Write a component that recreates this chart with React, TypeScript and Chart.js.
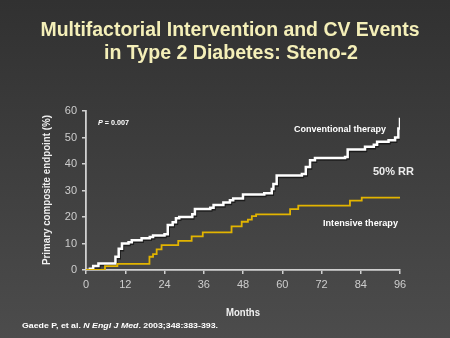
import React, { useEffect, useRef } from "react";
import { Chart, registerables } from "chart.js";

Chart.register(...registerables);

const titleLines = ["Multifactorial Intervention and CV Events", "in Type 2 Diabetes: Steno-2"];
const yAxisTitle = "Primary composite endpoint (%)";
const xAxisTitle = "Months";
const pValueLabel = ["P", " = 0.007"];
const conventionalLabel = "Conventional therapy";
const intensiveLabel = "Intensive therapy";
const rrLabel = "50% RR";
const citationParts = ["Gaede P, et al. ", "N Engl J Med", ". 2003;348:383-393."];

const conventionalMonths = [0, 1.2, 2.2, 3.8, 9.0, 10.0, 11.0, 13.0, 14.0, 17.0, 19.5, 20.5, 24.0, 25.0, 26.5, 27.5, 28.5, 32.5, 33.3, 38.0, 39.0, 42.0, 44.0, 45.0, 48.0, 54.5, 56.8, 57.3, 58.3, 66.0, 67.2, 68.5, 70.0, 79.2, 80.0, 85.3, 88.0, 89.0, 92.5, 94.5, 95.5, 96.0, 96.3];
const conventionalValues = [0, 0.5, 1.5, 2.5, 5.0, 8.0, 10.0, 10.5, 11.2, 12.0, 12.5, 13.0, 13.5, 17.0, 18.0, 19.5, 20.0, 21.0, 23.0, 23.5, 24.5, 25.5, 26.3, 27.0, 28.5, 29.0, 30.6, 32.5, 35.7, 36.2, 38.9, 41.4, 42.3, 42.6, 45.5, 46.5, 47.3, 48.4, 49.0, 50.0, 53.4, 57.5, 58.7];

const intensiveMonths = [0, 5.8, 9.6, 19.4, 20.5, 21.6, 23.1, 28.2, 32.3, 35.7, 44.5, 47.6, 49.5, 50.7, 52.0, 62.4, 64.9, 80.7, 84.3, 96.2];
const intensiveValues = [0, 1.5, 2.3, 5.0, 6.0, 7.8, 9.4, 11.0, 12.7, 14.2, 16.5, 18.2, 19.0, 20.3, 21.0, 23.0, 24.3, 26.2, 27.3, 27.3];

const xMin = 0;
const xMax = 96;
const xStep = 12;
const yMin = 0;
const yMax = 60;
const yStep = 10;

const FONT = '"Liberation Sans", Arial, sans-serif';

type Run = { t: string; italic?: boolean };

function drawRuns(
  ctx: CanvasRenderingContext2D,
  runs: Run[],
  x: number,
  y: number,
  width: number,
  size: number,
  color: string,
  align: "left" | "center" = "left",
  rotate = false
) {
  const fontOf = (r: Run) => `${r.italic ? "italic " : ""}bold ${size}px ${FONT}`;
  let total = 0;
  const widths = runs.map((r) => {
    ctx.font = fontOf(r);
    const w = ctx.measureText(r.t).width;
    total += w;
    return w;
  });
  const s = width / total;
  ctx.save();
  ctx.translate(x, y);
  if (rotate) ctx.rotate(-Math.PI / 2);
  ctx.scale(s, 1);
  let cx = align === "center" ? -total / 2 : 0;
  ctx.fillStyle = color;
  ctx.textBaseline = "middle";
  ctx.textAlign = "left";
  runs.forEach((r, i) => {
    ctx.font = fontOf(r);
    ctx.fillText(r.t, cx, 0);
    cx += widths[i];
  });
  ctx.restore();
}

const bgPlugin = {
  id: "bg",
  beforeDraw(chart: any) {
    const { ctx, width, height } = chart;
    const g = ctx.createLinearGradient(0, 0, 0, height);
    g.addColorStop(0, "#313131");
    g.addColorStop(1, "#4c4c4c");
    ctx.save();
    ctx.fillStyle = g;
    ctx.fillRect(0, 0, width, height);
    ctx.restore();
  },
};

const shadowPlugin = {
  id: "lineShadow",
  beforeDatasetDraw(chart: any, args: any) {
    if (args.index !== 1) return;
    const ctx = chart.ctx;
    ctx.save();
    ctx.shadowColor = "rgba(0,0,0,0.55)";
    ctx.shadowOffsetX = 1;
    ctx.shadowOffsetY = 1.5;
    ctx.shadowBlur = 0;
  },
  afterDatasetDraw(chart: any, args: any) {
    if (args.index !== 1) return;
    chart.ctx.restore();
  },
};

const textPlugin = {
  id: "texts",
  afterDraw(chart: any) {
    const ctx = chart.ctx as CanvasRenderingContext2D;
    const title = "#f4efb8";
    drawRuns(ctx, [{ t: titleLines[0] }], 230, 30, 379, 20, title, "center");
    drawRuns(ctx, [{ t: titleLines[1] }], 231, 53, 254, 20, title, "center");
    drawRuns(ctx, [{ t: yAxisTitle }], 47, 190, 150, 10.5, "#f0f0f0", "center", true);
    drawRuns(ctx, [{ t: xAxisTitle }], 243, 313, 34, 10.5, "#f0f0f0", "center");
    drawRuns(
      ctx,
      [{ t: citationParts[0] }, { t: citationParts[1], italic: true }, { t: citationParts[2] }],
      22, 326, 196, 8, "#ffffff"
    );
    drawRuns(ctx, [{ t: pValueLabel[0], italic: true }, { t: pValueLabel[1] }], 98, 123, 31, 8, "#ffffff");
    drawRuns(ctx, [{ t: conventionalLabel }], 294, 129, 92, 9.5, "#ffffff");
    drawRuns(ctx, [{ t: rrLabel }], 373, 172, 41, 11.5, "#ececec");
    drawRuns(ctx, [{ t: intensiveLabel }], 323, 223, 75, 9.5, "#ffffff");
  },
};

export default function App() {
  const ref = useRef<HTMLCanvasElement | null>(null);
  useEffect(() => {
    if (!ref.current) return;
    const conv = conventionalMonths.map((m, i) => ({ x: m, y: conventionalValues[i] }));
    const intens = intensiveMonths.map((m, i) => ({ x: m, y: intensiveValues[i] }));
    const axisColor = "#d0d0d0";
    const tickColor = "#cdcdcd";
    const chart = new Chart(ref.current, {
      type: "line",
      data: {
        datasets: [
          {
            label: intensiveLabel,
            data: intens,
            borderColor: "#e2b400",
            borderWidth: 1.8,
            pointRadius: 0,
            stepped: true,
            fill: false,
          },
          {
            label: conventionalLabel,
            data: conv,
            borderColor: "#ffffff",
            borderWidth: 2.5,
            pointRadius: 0,
            stepped: true,
            fill: false,
          },
        ],
      },
      options: {
        animation: false,
        responsive: false,
        events: [],
        layout: { padding: { left: 0, right: 50, top: 111, bottom: 0 } },
        plugins: { legend: { display: false }, tooltip: { enabled: false }, title: { display: false } },
        scales: {
          x: {
            type: "linear",
            min: xMin,
            max: xMax,
            afterFit: (s: any) => {
              s.height = 68;
            },
            ticks: { stepSize: xStep, color: tickColor, font: { family: FONT, size: 11 }, padding: 4 },
            grid: { drawOnChartArea: false, drawTicks: true, tickLength: 4, color: axisColor, lineWidth: 1.5 },
            border: { color: axisColor, width: 1.8 },
          },
          y: {
            type: "linear",
            min: yMin,
            max: yMax,
            afterFit: (s: any) => {
              s.width = 86;
            },
            ticks: { stepSize: yStep, color: tickColor, font: { family: FONT, size: 11 }, padding: 5 },
            grid: { drawOnChartArea: false, drawTicks: true, tickLength: 4, color: axisColor, lineWidth: 1.5 },
            border: { color: axisColor, width: 1.8 },
          },
        },
      },
      plugins: [bgPlugin, shadowPlugin, textPlugin],
    });
    return () => chart.destroy();
  }, []);
  return (
    <div style={{ position: "absolute", left: 0, top: 0, width: 450, height: 338 }}>
      <canvas ref={ref} width={450} height={338} style={{ display: "block" }} />
    </div>
  );
}
